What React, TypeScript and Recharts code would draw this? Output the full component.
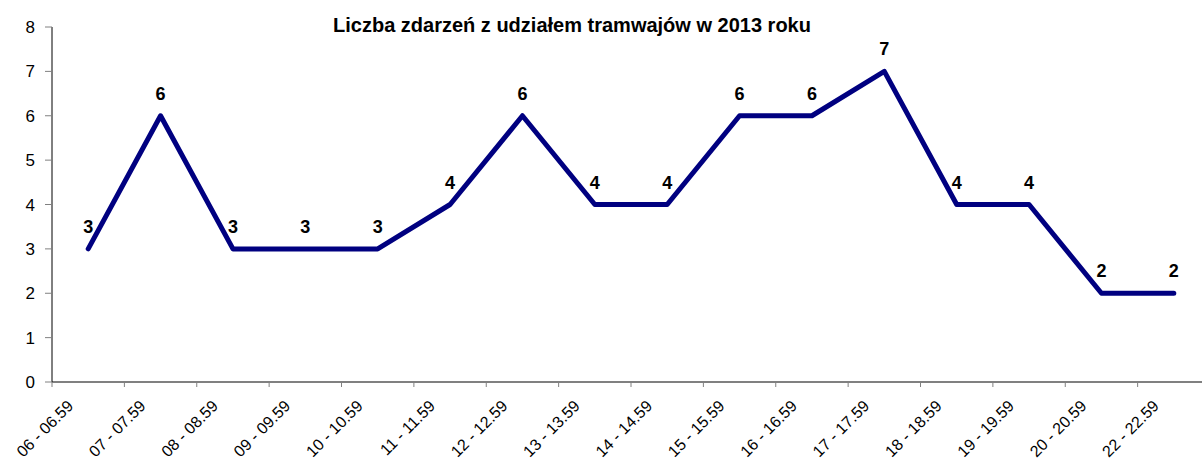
import React from 'react';
import { LineChart, Line, XAxis, YAxis, LabelList } from 'recharts';

const categories = [
  '06 - 06.59', '07 - 07.59', '08 - 08.59', '09 - 09.59', '10 - 10.59', '11 - 11.59',
  '12 - 12.59', '13 - 13.59', '14 - 14.59', '15 - 15.59', '16 - 16.59', '17 - 17.59',
  '18 - 18.59', '19 - 19.59', '20 - 20.59', '22 - 22.59',
];
const values = [3, 6, 3, 3, 3, 4, 6, 4, 4, 6, 6, 7, 4, 4, 2, 2];
const yTicks = [0, 1, 2, 3, 4, 5, 6, 7, 8];
const title = 'Liczba zdarzeń z udziałem tramwajów w 2013 roku';

const data = categories.map((c, i) => ({ name: c, value: values[i] }));

const W = 1202;
const H = 462;
const LEFT = 52;
const TOP = 27;
const RIGHT = -8;
const XAXIS_H = 80;
const HALF_BAND = (W - LEFT - RIGHT) / categories.length / 2;
const FONT = '"Liberation Sans", Arial, sans-serif';

const XTick = (props: any) => {
  const { x, y, payload } = props;
  const tx = x - 14;
  const ty = y + 25;
  return (
    <g>
      <line x1={x - HALF_BAND} y1={y} x2={x - HALF_BAND} y2={y + 5} stroke="#808080" strokeWidth={1} />
      <text
        x={tx}
        y={ty}
        transform={`rotate(-45, ${tx}, ${ty})`}
        textAnchor="end"
        fontSize={16}
        fontFamily={FONT}
        fill="#000"
      >
        {payload.value}
      </text>
    </g>
  );
};

export default function App() {
  return (
    <div style={{ position: 'absolute', left: 0, top: 0, width: W, height: H, background: '#fff', overflow: 'hidden' }}>
      <LineChart
        width={W}
        height={H}
        data={data}
        margin={{ top: TOP, right: RIGHT, bottom: 0, left: 0 }}
      >
        <XAxis
          dataKey="name"
          interval={0}
          height={XAXIS_H}
          padding={{ left: HALF_BAND, right: HALF_BAND }}
          tickSize={0}
          tickMargin={0}
          tickLine={false}
          axisLine={{ stroke: '#808080', strokeWidth: 2 }}
          tick={<XTick />}
        />
        <YAxis
          domain={[0, 8]}
          ticks={yTicks}
          width={LEFT}
          tickSize={7}
          tickMargin={10}
          axisLine={{ stroke: '#000', strokeWidth: 1 }}
          tickLine={{ stroke: '#808080' }}
          tick={{ fontSize: 17, fontFamily: FONT, fill: '#000' }}
          interval={0}
        />
        <Line
          type="linear"
          dataKey="value"
          stroke="#000080"
          strokeWidth={5}
          strokeLinejoin="round"
          strokeLinecap="round"
          dot={false}
          activeDot={false}
          isAnimationActive={false}
        >
          <LabelList
            dataKey="value"
            position="top"
            offset={16}
            fontSize={18}
            fontWeight="bold"
            fontFamily={FONT}
            fill="#000"
          />
        </Line>
      </LineChart>
      <div
        style={{
          position: 'absolute',
          left: 272,
          top: 15,
          width: 600,
          textAlign: 'center',
          fontFamily: FONT,
          fontWeight: 'bold',
          fontSize: 20,
          lineHeight: '20px',
          color: '#000',
        }}
      >
        {title}
      </div>
    </div>
  );
}
